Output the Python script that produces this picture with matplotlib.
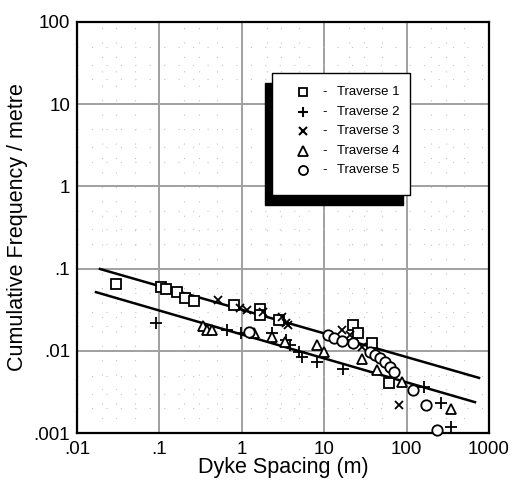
import matplotlib
matplotlib.use("Agg")
import matplotlib.pyplot as plt
from matplotlib.patches import Rectangle
import numpy as np

plt.rcParams['font.family'] = ['Liberation Sans', 'DejaVu Sans']

# Traverse data: dyke spacing (m) vs cumulative frequency (per metre)
t1_spacing = [0.030, 0.104, 0.120, 0.164, 0.205, 0.263, 0.80, 1.66, 1.66, 2.83, 22.4, 25.7, 38.0, 61.1]
t1_freq = [0.065, 0.0597, 0.0565, 0.0519, 0.0438, 0.0403, 0.036, 0.0323, 0.0273, 0.0237, 0.0206, 0.0165, 0.0125, 0.00405]

t2_spacing = [0.091, 0.66, 0.977, 2.32, 3.44, 3.85, 4.94, 5.38, 8.2, 16.9, 163, 261, 346]
t2_freq = [0.0218, 0.0179, 0.0165, 0.0165, 0.0135, 0.0118, 0.00966, 0.0084, 0.0073, 0.0060, 0.00363, 0.0023, 0.00118]

t3_spacing = [0.51, 0.95, 1.16, 1.8, 3.07, 3.4, 3.64, 16.4, 20.6, 28.8, 80.9]
t3_freq = [0.0415, 0.0332, 0.0313, 0.030, 0.0258, 0.022, 0.0206, 0.0179, 0.0156, 0.0111, 0.0022]

t4_spacing = [0.338, 0.379, 0.435, 1.41, 2.32, 3.34, 8.18, 9.95, 28.5, 43.7, 87.9, 346]
t4_freq = [0.020, 0.0179, 0.0179, 0.0165, 0.0147, 0.0128, 0.0118, 0.00966, 0.0079, 0.00583, 0.00417, 0.00196]

t5_spacing = [1.22, 11.1, 13.1, 16.4, 22.4, 36, 41.4, 47.6, 54.7, 62.9, 70.3, 119.6, 172, 234]
t5_freq = [0.0169, 0.0156, 0.0143, 0.0131, 0.0125, 0.00966, 0.0089, 0.00817, 0.0073, 0.00636, 0.0055, 0.00334, 0.00219, 0.00109]

# Power-law envelopes: freq = coeff * spacing ** exponent
upper_coeff, upper_exp, upper_range = 0.0316, -0.288, (0.019, 757)
lower_coeff, lower_exp, lower_range = 0.0158, -0.291, (0.017, 676)

series_labels = ['Traverse 1', 'Traverse 2', 'Traverse 3', 'Traverse 4', 'Traverse 5']
x_ticks = [0.01, 0.1, 1, 10, 100, 1000]
x_ticklabels = ['.01', '.1', '1', '10', '100', '1000']
y_ticks = [0.001, 0.01, 0.1, 1, 10, 100]
y_ticklabels = ['.001', '.01', '.1', '1', '10', '100']

fig = plt.figure(figsize=(5.18, 4.84), dpi=100)
ax = fig.add_axes([77 / 518, 51 / 484, 412 / 518, 411 / 484])
ax.set_xscale('log')
ax.set_yscale('log')
ax.set_xlim(0.01, 1000)
ax.set_ylim(0.001, 100)

# grid: solid grey decades, sparse dotted minor lines
for v in x_ticks[1:-1]:
    ax.axvline(v, color='#a0a0a0', lw=1.4, zorder=0)
for v in y_ticks[1:-1]:
    ax.axhline(v, color='#a0a0a0', lw=1.4, zorder=0)
minor = [m * 10.0 ** e for e in range(-3, 3) for m in (2, 3, 5)]
for v in minor:
    if 0.01 < v < 1000:
        ax.axvline(v, color='#c4c4c4', lw=0.8, ls=(0, (1, 12)), zorder=0)
    if 0.001 < v < 100:
        ax.axhline(v, color='#c4c4c4', lw=0.8, ls=(0, (1, 12)), zorder=0)

for coeff, exp, rng in [(upper_coeff, upper_exp, upper_range), (lower_coeff, lower_exp, lower_range)]:
    xs = np.array(rng)
    ax.plot(xs, coeff * xs ** exp, color='black', lw=1.8, zorder=2)

mk = dict(linestyle='none', color='black', zorder=3, clip_on=False)
ax.plot(t1_spacing, t1_freq, marker='s', ms=7, mfc='white', mew=1.3, **mk)
ax.plot(t2_spacing, t2_freq, marker='+', ms=8, mew=1.3, **mk)
ax.plot(t3_spacing, t3_freq, marker='x', ms=6, mew=1.3, **mk)
ax.plot(t4_spacing, t4_freq, marker='^', ms=7.5, mfc='white', mew=1.3, **mk)
ax.plot(t5_spacing, t5_freq, marker='o', ms=7.5, mfc='white', mew=1.3, **mk)

ax.set_xticks(x_ticks)
ax.set_xticklabels(x_ticklabels)
ax.set_yticks(y_ticks)
ax.set_yticklabels(y_ticklabels)
ax.minorticks_off()
ax.tick_params(axis='both', length=0, labelsize=13.5, colors='black')
ax.tick_params(axis='x', pad=6)
ax.tick_params(axis='y', pad=5)
for s in ax.spines.values():
    s.set_linewidth(1.6)
    s.set_color('black')

ax.set_xlabel('Dyke Spacing (m)', fontsize=15.5, labelpad=-1)
ax.set_ylabel('Cumulative Frequency / metre', fontsize=15.5, labelpad=4)

# legend box with offset solid shadow
lx0, lx1 = (272 - 77) / 412, (410 - 77) / 412
ly0, ly1 = (433 - 195) / 411, (433 - 73) / 411
sdx, sdy = -7 / 412, -10 / 411
ax.add_patch(Rectangle((lx0 + sdx, ly0 + sdy), lx1 - lx0, ly1 - ly0, transform=ax.transAxes,
                       facecolor='black', edgecolor='black', zorder=5))
ax.add_patch(Rectangle((lx0, ly0), lx1 - lx0, ly1 - ly0, transform=ax.transAxes,
                       facecolor='white', edgecolor='black', lw=1.0, zorder=6))
styles = [dict(marker='s', ms=6, mfc='white', mew=1.3),
          dict(marker='+', ms=7, mew=1.5),
          dict(marker='x', ms=5.5, mew=1.5),
          dict(marker='^', ms=6.5, mfc='white', mew=1.3),
          dict(marker='o', ms=6.5, mfc='white', mew=1.3)]
row_y = [92, 112, 131, 151, 170]
for lab, st, py in zip(series_labels, styles, row_y):
    yy = (433 - py) / 411
    ax.plot([(303 - 77) / 412], [yy], transform=ax.transAxes, color='black', ls='none',
            zorder=7, clip_on=False, **st)
    ax.text((325 - 77) / 412, yy, '-', transform=ax.transAxes, fontsize=9.5,
            ha='center', va='center', zorder=7)
    ax.text((337 - 77) / 412, yy, lab, transform=ax.transAxes, fontsize=9.5,
            ha='left', va='center', zorder=7)

fig.savefig('out.png', dpi=100)
